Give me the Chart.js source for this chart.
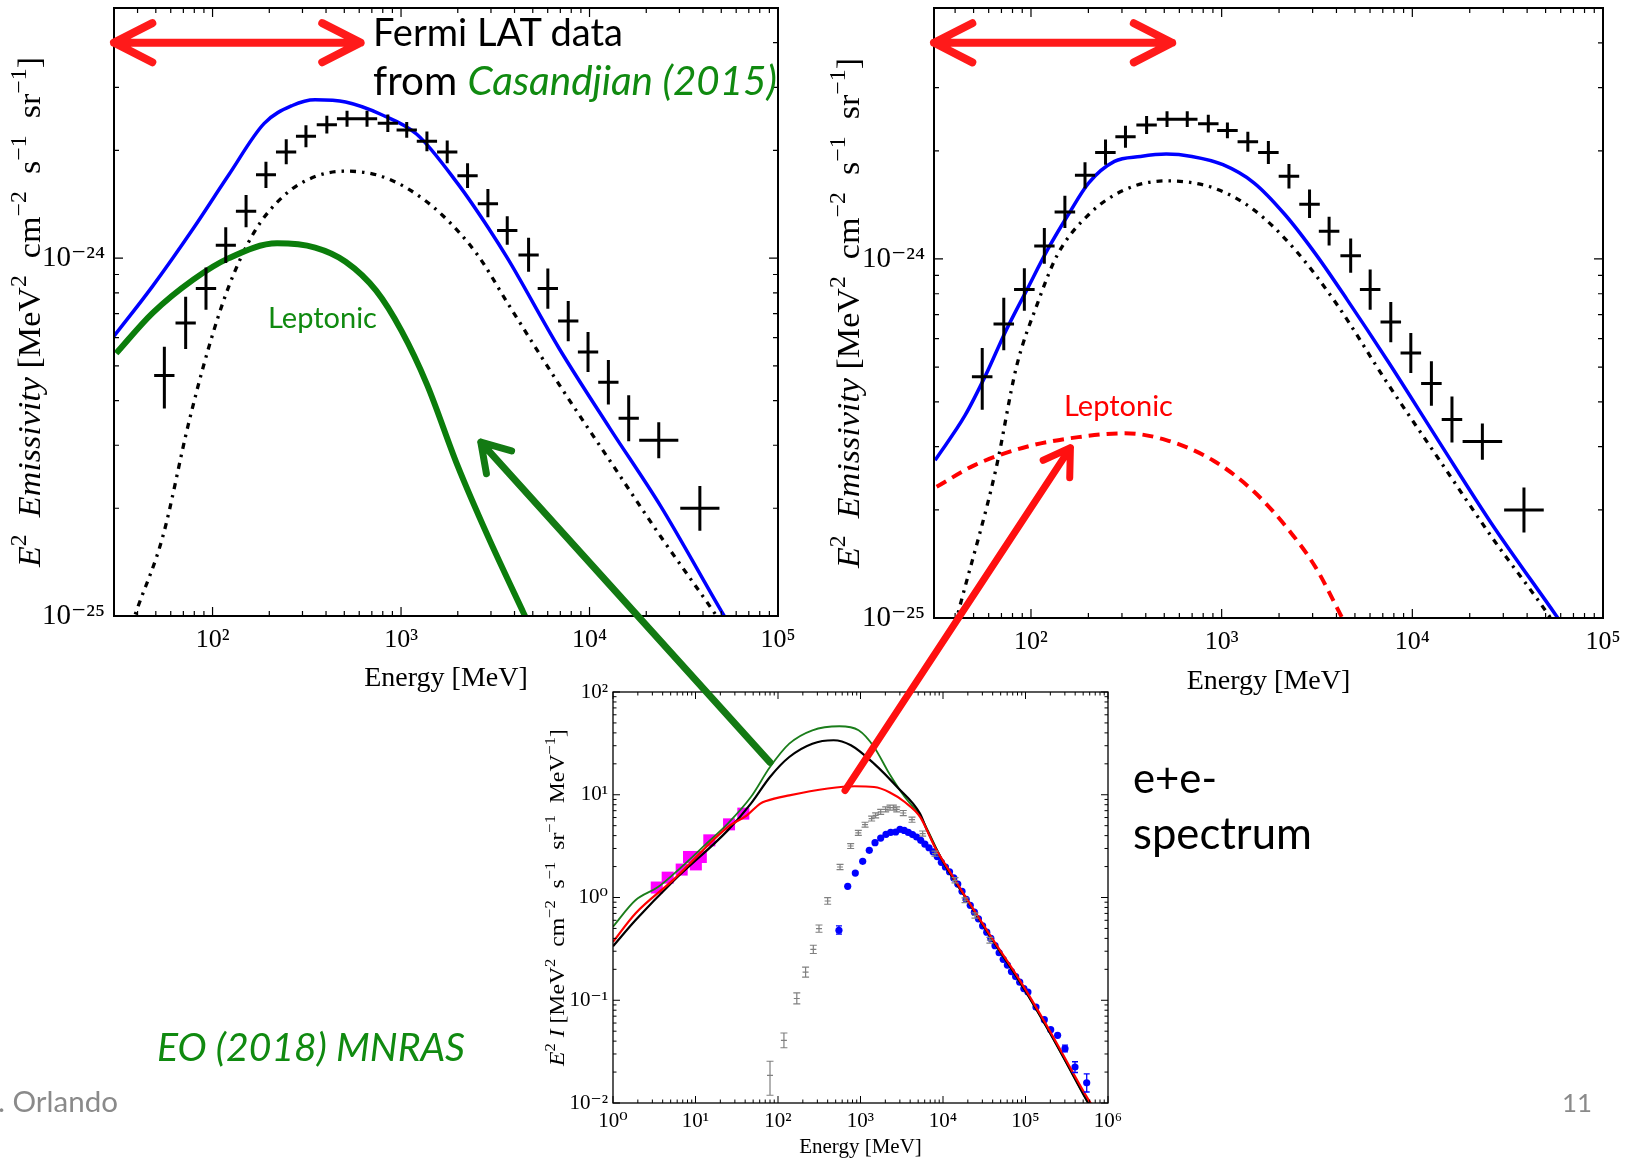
<!DOCTYPE html>
<html>
<head>
<meta charset="utf-8">
<script src="https://cdn.jsdelivr.net/npm/chart.js@4.4.1/dist/chart.umd.min.js"></script>
<style>
  html, body { margin: 0; padding: 0; background: #fff; overflow: hidden; }
  #slide { position: relative; width: 1631px; height: 1159px; overflow: hidden; background: #fff; }
  canvas.chart { position: absolute; }
  #overlay { position: absolute; left: 0; top: 0; pointer-events: none; z-index: 5; }
  .txt { position: absolute; white-space: nowrap; font-family: Lato, "Open Sans", sans-serif; line-height: 1; z-index: 6; color: #000; }
  .green { color: #108a10; }
  .it { font-style: italic; }
  .grey { color: #8a8a8a; }
</style>
</head>
<body>
<div id="slide">
  <canvas id="leftChart" class="chart" width="796" height="700" style="left:0;top:0"></canvas>
  <canvas id="rightChart" class="chart" width="811" height="700" style="left:820px;top:0"></canvas>
  <canvas id="bottomChart" class="chart" width="630" height="499" style="left:520px;top:660px"></canvas>
  <canvas id="overlay" width="1631" height="1159"></canvas>

  <div class="txt" id="tFermi">Fermi LAT data</div>
  <div class="txt" id="tFrom">from <span class="green it">Casandjian (2015)</span></div>
  <div class="txt green" id="tLepLeft">Leptonic</div>
  <div class="txt" id="tLepRight" style="color:#ff0000">Leptonic</div>
  <div class="txt" id="tEE">e+e-</div>
  <div class="txt" id="tSpectrum">spectrum</div>
  <div class="txt green it" id="tEO">EO (2018) MNRAS</div>
  <div class="txt grey" id="tAuthor">. Orlando</div>
  <div class="txt grey" id="tPage">11</div>
</div>

<script>
// ---- Fermi LAT emissivity (Casandjian 2015), same points in both top panels ----
const fermiEnergy = [55.5, 72, 92.3, 117.5, 150.6, 192, 246, 313, 404, 517, 660, 851, 1072, 1372, 1758, 2254, 2890, 3660, 4750, 6010, 7710, 9820, 12590, 16140, 23300, 38500];
const fermiEnergyLow = [49, 63.6, 81.5, 104, 133, 170, 217, 277, 357, 457, 583, 752, 947, 1212, 1553, 1991, 2553, 3233, 4196, 5309, 6811, 8675, 11120, 14260, 18350, 30300];
const fermiEnergyHigh = [62.8, 81.5, 104.5, 133, 170.5, 217, 278, 354, 457, 585, 747, 963, 1214, 1553, 1990, 2551, 3271, 4143, 5377, 6803, 8728, 11120, 14250, 18270, 29590, 48900];
const fermiEmissivity = [4.70e-25, 6.59e-25, 8.22e-25, 1.087e-24, 1.352e-24, 1.71e-24, 1.98e-24, 2.19e-24, 2.36e-24, 2.45e-24, 2.45e-24, 2.38e-24, 2.28e-24, 2.12e-24, 1.98e-24, 1.70e-24, 1.42e-24, 1.195e-24, 1.02e-24, 8.22e-25, 6.67e-25, 5.47e-25, 4.50e-25, 3.57e-25, 3.10e-25, 2.00e-25];
const fermiEmissLow = [3.8e-25, 5.57e-25, 7.17e-25, 9.69e-25, 1.22e-24, 1.57e-24, 1.83e-24, 2.04e-24, 2.23e-24, 2.33e-24, 2.33e-24, 2.25e-24, 2.17e-24, 1.99e-24, 1.84e-24, 1.57e-24, 1.30e-24, 1.09e-24, 9.16e-25, 7.22e-25, 5.86e-25, 4.81e-25, 3.90e-25, 3.08e-25, 2.76e-25, 1.73e-25];
const fermiEmissHigh = [5.65e-25, 7.8e-25, 9.42e-25, 1.22e-24, 1.50e-24, 1.86e-24, 2.15e-24, 2.35e-24, 2.50e-24, 2.58e-24, 2.58e-24, 2.52e-24, 2.40e-24, 2.26e-24, 2.13e-24, 1.84e-24, 1.56e-24, 1.31e-24, 1.14e-24, 9.35e-25, 7.59e-25, 6.22e-25, 5.19e-25, 4.14e-25, 3.48e-25, 2.31e-25];

// ---- left panel models ----
const leftTotalEnergy = [29.6, 48, 79, 122, 188, 265, 350, 508, 785, 1212, 1990, 2890, 3710, 6890, 12800, 23800, 51800, 57000];
const leftTotalEmiss = [6.0e-25, 8.34e-25, 1.21e-24, 1.71e-24, 2.38e-24, 2.67e-24, 2.77e-24, 2.73e-24, 2.52e-24, 2.22e-24, 1.62e-24, 1.22e-24, 9.9e-25, 5.6e-25, 3.35e-25, 2.03e-25, 1.0e-25, 9.2e-26];
const leftPionEnergy = [37, 39.9, 54.5, 74.3, 95, 122, 166, 241, 350, 508, 738, 1072, 1653, 2550, 3710, 6890, 12800, 23800, 47200, 52000];
const leftPionEmiss = [9.4e-26, 1.05e-25, 1.67e-25, 3.42e-25, 5.58e-25, 8.34e-25, 1.18e-24, 1.50e-24, 1.69e-24, 1.75e-24, 1.71e-24, 1.57e-24, 1.32e-24, 1.02e-24, 7.43e-25, 4.44e-25, 2.72e-25, 1.67e-25, 1.0e-25, 9.25e-26];
const leftLeptonicEnergy = [30.8, 48, 79, 122, 220, 350, 508, 738, 1006, 1372, 1990, 2890, 4467, 4900];
const leftLeptonicEmiss = [5.42e-25, 7.02e-25, 8.71e-25, 1.0e-24, 1.10e-24, 1.07e-24, 9.77e-25, 8.11e-25, 6.26e-25, 4.44e-25, 2.64e-25, 1.67e-25, 1.02e-25, 9.2e-26];

// ---- right panel models ----
const rightTotalEnergy = [31.4, 45, 57.8, 74, 95, 122, 157, 201, 274, 375, 512, 698, 1016, 1476, 2146, 3120, 4530, 7460, 13900, 25900, 56500, 62000];
const rightTotalEmiss = [2.75e-25, 3.66e-25, 4.74e-25, 6.32e-25, 8.19e-25, 1.06e-24, 1.33e-24, 1.63e-24, 1.87e-24, 1.93e-24, 1.96e-24, 1.93e-24, 1.83e-24, 1.63e-24, 1.33e-24, 1.03e-24, 7.73e-25, 5.18e-25, 3.08e-25, 1.84e-25, 1.02e-25, 9.5e-26];
const rightPionEnergy = [40, 42.4, 65.5, 84, 108, 138, 201, 311, 512, 898, 1476, 2430, 4000, 7460, 13900, 25900, 53100, 58000];
const rightPionEmiss = [9.6e-26, 1.08e-25, 2.6e-25, 5.02e-25, 7.5e-25, 1.03e-24, 1.33e-24, 1.56e-24, 1.65e-24, 1.58e-24, 1.37e-24, 1.06e-24, 7.5e-25, 4.48e-25, 2.75e-25, 1.69e-25, 1.0e-25, 9.3e-26];
const rightLeptonicEnergy = [32, 51, 95, 177, 311, 512, 898, 1476, 2285, 3120, 4130, 4500];
const rightLeptonicEmiss = [2.32e-25, 2.67e-25, 3.0e-25, 3.19e-25, 3.27e-25, 3.13e-25, 2.75e-25, 2.25e-25, 1.74e-25, 1.38e-25, 1.04e-25, 9.5e-26];

// ---- bottom panel: e+e- spectrum models (MeV, E^2 I) ----
const greenModelEnergy = [1, 1.87, 3.55, 6.77, 12.9, 24.6, 46.9, 80, 137, 261, 555, 948, 1459, 2240, 3440, 5260, 10090, 19400, 37100, 85700, 198000, 552000, 700000];
const greenModelFlux = [0.52, 0.94, 1.27, 1.98, 3.22, 5.24, 9.5, 18.6, 31.4, 42.4, 46.4, 42.4, 29.2, 16, 9.5, 6.3, 2.2, 0.96, 0.42, 0.15, 0.048, 0.0106, 0.0075];
const blackModelEnergy = [1, 1.87, 5.4, 24.6, 46.9, 80, 137, 261, 472, 765, 1459, 2780, 5260, 6340, 10090, 19400, 37100, 85700, 198000, 552000, 700000];
const blackModelFlux = [0.335, 0.60, 1.45, 4.5, 8.2, 14.9, 23.3, 31.4, 33.9, 30.3, 20.1, 11.9, 6.56, 4.6, 2.2, 0.96, 0.42, 0.15, 0.048, 0.0106, 0.0075];
const redModelEnergy = [1, 1.87, 5.46, 24.6, 42, 61, 72, 137, 402, 851, 1459, 2240, 3440, 5300, 8130, 10090, 19400, 37100, 85700, 198000, 552000, 750000];
const redModelFlux = [0.37, 0.70, 1.5, 4.85, 6.31, 8.2, 8.7, 9.87, 11.5, 12.1, 11.9, 10.6, 8.5, 6.07, 3.0, 2.25, 0.97, 0.43, 0.155, 0.05, 0.0115, 0.0078];

// ---- bottom panel data ----
const voyagerEnergy = [3.39, 4.6, 6.8, 8.34, 10.1, 11.6, 14.7, 25.5, 38];
const voyagerFlux = [1.25, 1.56, 1.87, 2.48, 2.1, 2.48, 3.6, 5.15, 6.55];
const greyEnergy = [80, 118, 169, 216, 268, 314, 400, 565, 760, 941, 1135, 1365, 1527, 1757, 2020, 2280, 2500, 2750, 3300, 4210, 5670, 8000, 14000, 18500, 24400, 37000];
const greyFlux = [0.0186, 0.0407, 0.104, 0.188, 0.313, 0.498, 0.925, 1.98, 3.17, 4.25, 5.12, 5.86, 6.31, 6.8, 7.21, 7.5, 7.5, 7.2, 6.64, 5.72, 4.19, 2.67, 1.47, 0.94, 0.67, 0.384];
const greyFluxLow = [0.0119, 0.0345, 0.092, 0.168, 0.285, 0.459, 0.86, 1.87, 3.0, 4.02, 4.85, 5.55, 5.96, 6.43, 6.82, 7.08, 7.08, 6.8, 6.27, 5.4, 3.95, 2.52, 1.39, 0.89, 0.63, 0.36];
const greyFluxHigh = [0.0255, 0.048, 0.118, 0.21, 0.343, 0.54, 0.995, 2.10, 3.35, 4.5, 5.4, 6.2, 6.67, 7.2, 7.62, 7.93, 7.93, 7.62, 7.03, 6.06, 4.44, 2.83, 1.56, 0.99, 0.71, 0.41];
const blueEnergy = [548, 700, 865, 1063, 1278, 1500, 1757, 2037, 2322, 2669, 3010, 3390, 3800, 4270, 4790, 5370, 6030, 6760, 7590, 8510, 9550, 10700, 12000, 13500, 15100, 17000, 19100, 21400, 24000, 26900, 30200, 33900, 38000, 42700, 47900, 53700, 60300, 67600, 75900, 85100, 95500, 107000, 134000, 169000, 202000, 245000, 301000, 398000, 552000];
const blueFlux = [0.48, 1.285, 1.73, 2.25, 2.88, 3.42, 3.79, 4.12, 4.31, 4.34, 4.61, 4.5, 4.3, 4.1, 3.88, 3.6, 3.3, 3.05, 2.78, 2.5, 2.2, 1.98, 1.78, 1.55, 1.35, 1.15, 0.96, 0.84, 0.72, 0.62, 0.53, 0.46, 0.40, 0.34, 0.29, 0.25, 0.22, 0.19, 0.17, 0.15, 0.13, 0.12, 0.0859, 0.0647, 0.0517, 0.0456, 0.0338, 0.0224, 0.0157];
const blueErrEnergy = [548, 301000, 398000, 552000];
const blueErrLow = [0.44, 0.0315, 0.0198, 0.0128];
const blueErrHigh = [0.53, 0.0365, 0.0252, 0.0192];

// ---- tick labels ----
const topXTickValues = [1e2, 1e3, 1e4, 1e5];
const topXTickLabels = ['10²', '10³', '10⁴', '10⁵'];
const topYTickValues = [1e-25, 1e-24];
const topYTickLabels = ['10⁻²⁵', '10⁻²⁴'];
const bottomXTickValues = [1, 10, 100, 1e3, 1e4, 1e5, 1e6];
const bottomXTickLabels = ['10⁰', '10¹', '10²', '10³', '10⁴', '10⁵', '10⁶'];
const bottomYTickValues = [1e-2, 1e-1, 1, 10, 100];
const bottomYTickLabels = ['10⁻²', '10⁻¹', '10⁰', '10¹', '10²'];

// ---- annotation anchors (data coordinates) ----
const leftRangeEnergy = [30, 610];
const rightRangeEnergy = [31, 550];
const rangeLevel = 4.0e-24;
const greenArrowFrom = [80, 20.7];      // bottom panel
const greenArrowTo = [2650, 3.06e-25];  // left panel
const redArrowFrom = [649, 11.0];       // bottom panel
const redArrowTo = [161, 2.98e-25];     // right panel

const SERIF = '"Liberation Serif", "DejaVu Serif", serif';

function pairs(xs, ys) {
  return xs.map((x, i) => ({ x, y: ys[i] }));
}

function labelFor(value, values, labels) {
  const i = values.findIndex(v => Math.abs(Math.log10(v) - Math.log10(value)) < 1e-6);
  return i >= 0 ? labels[i] : '';
}

function logAxis({ min, max, values, labels, fontSize, padding, size, horizontal, title, titleSize, titlePad }) {
  return {
    type: 'logarithmic',
    min,
    max,
    grid: { display: false, drawTicks: false },
    border: { display: false },
    afterBuildTicks: scale => { scale.ticks = values.map(v => ({ value: v })); },
    afterFit: scale => {
      if (horizontal) scale.height = size; else scale.width = size;
      scale.paddingLeft = scale.paddingRight = scale.paddingTop = scale.paddingBottom = 0;
    },
    ticks: {
      autoSkip: false,
      maxRotation: 0,
      minRotation: 0,
      padding,
      color: '#000',
      font: { family: SERIF, size: fontSize },
      callback: value => labelFor(value, values, labels)
    },
    title: title
      ? { display: true, text: title, color: '#000', font: { family: SERIF, size: titleSize }, padding: { top: 0, bottom: titlePad } }
      : { display: false }
  };
}

function logSteps(min, max) {
  const out = [];
  for (let e = Math.floor(Math.log10(min)); e <= Math.ceil(Math.log10(max)); e++) {
    for (let m = 1; m <= 9; m++) {
      const v = m * Math.pow(10, e);
      if (v >= min * 0.999999 && v <= max * 1.000001) out.push({ v, major: m === 1 });
    }
  }
  return out;
}

// inward ticks on all four sides plus the frame, like the matplotlib original
function framePlugin({ major, minor, tickWidth, frameWidth }) {
  return {
    id: 'frame',
    afterDatasetsDraw(chart) {
      const { ctx, chartArea: a, scales: { x, y } } = chart;
      ctx.save();
      ctx.strokeStyle = '#000';
      ctx.lineWidth = tickWidth;
      ctx.beginPath();
      logSteps(x.min, x.max).forEach(({ v, major: isMajor }) => {
        const px = x.getPixelForValue(v);
        const len = isMajor ? major : minor;
        ctx.moveTo(px, a.bottom); ctx.lineTo(px, a.bottom - len);
        ctx.moveTo(px, a.top); ctx.lineTo(px, a.top + len);
      });
      logSteps(y.min, y.max).forEach(({ v, major: isMajor }) => {
        const py = y.getPixelForValue(v);
        const len = isMajor ? major : minor;
        ctx.moveTo(a.left, py); ctx.lineTo(a.left + len, py);
        ctx.moveTo(a.right, py); ctx.lineTo(a.right - len, py);
      });
      ctx.stroke();
      ctx.lineWidth = frameWidth;
      ctx.strokeRect(a.left, a.top, a.right - a.left, a.bottom - a.top);
      ctx.restore();
    }
  };
}

const errorBarPlugin = {
  id: 'errorBars',
  afterDatasetsDraw(chart) {
    const { ctx, chartArea: a, scales: { x, y } } = chart;
    chart.data.datasets.forEach(ds => {
      const eb = ds.errorBars;
      if (!eb) return;
      ctx.save();
      ctx.beginPath();
      ctx.rect(a.left, a.top, a.right - a.left, a.bottom - a.top);
      ctx.clip();
      ctx.strokeStyle = eb.color;
      ctx.lineWidth = eb.width;
      ctx.beginPath();
      ds.data.forEach((pt, i) => {
        const px = x.getPixelForValue(pt.x);
        const py = y.getPixelForValue(pt.y);
        if (eb.xLow) {
          ctx.moveTo(x.getPixelForValue(eb.xLow[i]), py);
          ctx.lineTo(x.getPixelForValue(eb.xHigh[i]), py);
        }
        if (eb.yLow) {
          const lo = y.getPixelForValue(eb.yLow[i]);
          const hi = y.getPixelForValue(eb.yHigh[i]);
          ctx.moveTo(px, lo); ctx.lineTo(px, hi);
          if (eb.cap) {
            ctx.moveTo(px - eb.cap, lo); ctx.lineTo(px + eb.cap, lo);
            ctx.moveTo(px - eb.cap, hi); ctx.lineTo(px + eb.cap, hi);
          }
        }
        if (eb.mid) {
          ctx.moveTo(px - eb.mid, py); ctx.lineTo(px + eb.mid, py);
        }
      });
      ctx.stroke();
      ctx.restore();
    });
  }
};

// rotated y title with italic symbols and superscripts
function yTitlePlugin({ x, size, length, segments }) {
  return {
    id: 'yTitle',
    afterDraw(chart) {
      const { ctx, chartArea: a } = chart;
      const fontFor = s => `${s.it ? 'italic ' : ''}${s.sup ? size * 0.7 : size}px ${SERIF}`;
      ctx.save();
      let total = 0;
      const widths = segments.map(s => {
        ctx.font = fontFor(s);
        const w = ctx.measureText(s.t).width;
        total += w;
        return w;
      });
      ctx.translate(x, (a.top + a.bottom) / 2);
      ctx.rotate(-Math.PI / 2);
      ctx.scale(length / total, 1);
      ctx.fillStyle = '#000';
      ctx.textBaseline = 'alphabetic';
      let cx = -total / 2;
      segments.forEach((s, i) => {
        ctx.font = fontFor(s);
        ctx.fillText(s.t, cx, size * 0.33 - (s.sup ? size * 0.42 : 0));
        cx += widths[i];
      });
      ctx.restore();
    }
  };
}

const emissivityTitle = [
  { t: 'E', it: true }, { t: '2', sup: true }, { t: '  ' }, { t: 'Emissivity', it: true },
  { t: ' [MeV' }, { t: '2', sup: true }, { t: '  cm' }, { t: '−2', sup: true },
  { t: '  s' }, { t: '−1', sup: true }, { t: '  sr' }, { t: '−1', sup: true }, { t: ']' }
];
const spectrumTitle = [
  { t: 'E', it: true }, { t: '2', sup: true }, { t: ' ' }, { t: 'I', it: true },
  { t: ' [MeV' }, { t: '2', sup: true }, { t: '  cm' }, { t: '−2', sup: true },
  { t: '  s' }, { t: '−1', sup: true }, { t: '  sr' }, { t: '−1', sup: true },
  { t: '  MeV' }, { t: '−1', sup: true }, { t: ']' }
];

function curve(xs, ys, color, width, dash) {
  return {
    data: pairs(xs, ys),
    showLine: true,
    borderColor: color,
    borderWidth: width,
    borderDash: dash || [],
    pointRadius: 0,
    fill: false,
    cubicInterpolationMode: 'monotone',
    clip: 0
  };
}

function fermiPoints() {
  return {
    data: pairs(fermiEnergy, fermiEmissivity),
    pointRadius: 0,
    errorBars: { xLow: fermiEnergyLow, xHigh: fermiEnergyHigh, yLow: fermiEmissLow, yHigh: fermiEmissHigh, color: '#000', width: 3 }
  };
}

function topOptions(xMin, rightPad, xAxisHeight, titlePad) {
  return {
    responsive: false,
    animation: false,
    events: [],
    layout: { padding: { top: 8, right: rightPad, bottom: 0, left: 0 } },
    plugins: { legend: { display: false }, tooltip: { enabled: false } },
    scales: {
      x: logAxis({ min: xMin, max: 1e5, values: topXTickValues, labels: topXTickLabels, fontSize: 26, padding: 9, size: xAxisHeight, horizontal: true, title: 'Energy [MeV]', titleSize: 28, titlePad }),
      y: logAxis({ min: 1e-25, max: 5e-24, values: topYTickValues, labels: topYTickLabels, fontSize: 29, padding: 9, size: 114, horizontal: false })
    }
  };
}

const dashDot = [6, 6, 2.5, 6];

const leftChart = new Chart(document.getElementById('leftChart'), {
  type: 'scatter',
  data: {
    datasets: [
      fermiPoints(),
      curve(leftLeptonicEnergy, leftLeptonicEmiss, '#0b7d0b', 6),
      curve(leftTotalEnergy, leftTotalEmiss, '#0000ff', 3.5),
      curve(leftPionEnergy, leftPionEmiss, '#000', 3.3, dashDot)
    ]
  },
  options: topOptions(30, 18, 84, 5),
  plugins: [errorBarPlugin, framePlugin({ major: 9, minor: 5, tickWidth: 1.2, frameWidth: 2 }),
    yTitlePlugin({ x: 29, size: 32, length: 510, segments: emissivityTitle })]
});

const rightChart = new Chart(document.getElementById('rightChart'), {
  type: 'scatter',
  data: {
    datasets: [
      fermiPoints(),
      curve(rightTotalEnergy, rightTotalEmiss, '#0000ff', 3.5),
      curve(rightLeptonicEnergy, rightLeptonicEmiss, '#ff0000', 4, [11, 7]),
      curve(rightPionEnergy, rightPionEmiss, '#000', 3.3, dashDot)
    ]
  },
  options: topOptions(31, 28, 82, 2),
  plugins: [errorBarPlugin, framePlugin({ major: 9, minor: 5, tickWidth: 1.2, frameWidth: 2 }),
    yTitlePlugin({ x: 28, size: 32, length: 510, segments: emissivityTitle })]
});

const bottomChart = new Chart(document.getElementById('bottomChart'), {
  type: 'scatter',
  data: {
    datasets: [
      curve(redModelEnergy, redModelFlux, '#ff0000', 2.2),
      curve(blackModelEnergy, blackModelFlux, '#000', 2.2),
      curve(greenModelEnergy, greenModelFlux, '#1a7d1a', 1.8),
      { data: pairs(voyagerEnergy, voyagerFlux), pointStyle: 'rect', pointRadius: 8.5, backgroundColor: '#ff00ff', borderWidth: 0 },
      { data: pairs(blueEnergy, blueFlux), pointRadius: 3.6, backgroundColor: '#0000ff', borderWidth: 0 },
      { data: pairs(blueErrEnergy, blueErrEnergy.map(e => blueFlux[blueEnergy.indexOf(e)])), pointRadius: 0,
        errorBars: { yLow: blueErrLow, yHigh: blueErrHigh, cap: 3, color: '#0000ff', width: 1.3 } },
      { data: pairs(greyEnergy, greyFlux), pointRadius: 0,
        errorBars: { yLow: greyFluxLow, yHigh: greyFluxHigh, cap: 3.5, mid: 3, color: '#808080', width: 1.2 } }
    ]
  },
  options: {
    responsive: false,
    animation: false,
    events: [],
    layout: { padding: { top: 32, right: 42, bottom: 0, left: 0 } },
    plugins: { legend: { display: false }, tooltip: { enabled: false } },
    scales: {
      x: logAxis({ min: 1, max: 1e6, values: bottomXTickValues, labels: bottomXTickLabels, fontSize: 21, padding: 6, size: 56, horizontal: true, title: 'Energy [MeV]', titleSize: 21, titlePad: -1 }),
      y: logAxis({ min: 1e-2, max: 1e2, values: bottomYTickValues, labels: bottomYTickLabels, fontSize: 21, padding: 5, size: 93, horizontal: false })
    }
  },
  plugins: [errorBarPlugin, framePlugin({ major: 7, minor: 3.5, tickWidth: 1, frameWidth: 1.3 }),
    yTitlePlugin({ x: 37, size: 22, length: 337, segments: spectrumTitle })]
});

// ---- arrows drawn on a page overlay, anchored to the charts' scales ----
function pagePoint(chart, xv, yv) {
  const c = chart.canvas;
  return [c.offsetLeft + chart.scales.x.getPixelForValue(xv), c.offsetTop + chart.scales.y.getPixelForValue(yv)];
}

function arrowHead(ctx, tip, from, len, angle) {
  const th = Math.atan2(tip[1] - from[1], tip[0] - from[0]);
  ctx.moveTo(tip[0] - len * Math.cos(th - angle), tip[1] - len * Math.sin(th - angle));
  ctx.lineTo(tip[0], tip[1]);
  ctx.lineTo(tip[0] - len * Math.cos(th + angle), tip[1] - len * Math.sin(th + angle));
}

function drawArrow(ctx, from, to, { color, width, head, angle, both }) {
  ctx.save();
  ctx.strokeStyle = color;
  ctx.lineWidth = width;
  ctx.lineCap = 'round';
  ctx.lineJoin = 'round';
  ctx.beginPath();
  ctx.moveTo(from[0], from[1]);
  ctx.lineTo(to[0], to[1]);
  arrowHead(ctx, to, from, head, angle);
  if (both) arrowHead(ctx, from, to, head, angle);
  ctx.stroke();
  ctx.restore();
}

const overlay = document.getElementById('overlay').getContext('2d');
const deg = Math.PI / 180;
drawArrow(overlay, pagePoint(leftChart, leftRangeEnergy[0], rangeLevel), pagePoint(leftChart, leftRangeEnergy[1], rangeLevel),
  { color: '#ff1a1a', width: 8, head: 43, angle: 27 * deg, both: true });
drawArrow(overlay, pagePoint(rightChart, rightRangeEnergy[0], rangeLevel), pagePoint(rightChart, rightRangeEnergy[1], rangeLevel),
  { color: '#ff1a1a', width: 8, head: 43, angle: 27 * deg, both: true });
drawArrow(overlay, pagePoint(bottomChart, greenArrowFrom[0], greenArrowFrom[1]), pagePoint(leftChart, greenArrowTo[0], greenArrowTo[1]),
  { color: '#137a13', width: 7, head: 32, angle: 32 * deg });
drawArrow(overlay, pagePoint(bottomChart, redArrowFrom[0], redArrowFrom[1]), pagePoint(rightChart, redArrowTo[0], redArrowTo[1]),
  { color: '#ff1010', width: 7, head: 30, angle: 32 * deg });

// ---- slide text: fit to the measured width, then sit on the measured baseline ----
const slideText = [
  { id: 'tFermi', x: 373, baseline: 46, width: 250 },
  { id: 'tFrom', x: 373, baseline: 95, width: 404 },
  { id: 'tLepLeft', x: 268, baseline: 328, width: 109 },
  { id: 'tLepRight', x: 1064, baseline: 416, width: 109 },
  { id: 'tEE', x: 1133, baseline: 793, width: 84 },
  { id: 'tSpectrum', x: 1133, baseline: 849, width: 179 },
  { id: 'tEO', x: 157, baseline: 1061, width: 308 },
  { id: 'tAuthor', x: -2, baseline: 1112, width: 120 },
  { id: 'tPage', x: 1562, baseline: 1112, width: 30 }
];

slideText.forEach(t => {
  const el = document.getElementById(t.id);
  el.style.left = t.x + 'px';
  el.style.top = '0px';
  el.style.fontSize = '40px';
  const w = el.getBoundingClientRect().width;
  el.style.fontSize = (40 * t.width / w) + 'px';
  const marker = document.createElement('span');
  marker.style.cssText = 'display:inline-block;width:0;height:0;vertical-align:baseline';
  el.appendChild(marker);
  const base = marker.getBoundingClientRect().top - el.getBoundingClientRect().top;
  el.style.top = (t.baseline - base) + 'px';
});
</script>
</body>
</html>
